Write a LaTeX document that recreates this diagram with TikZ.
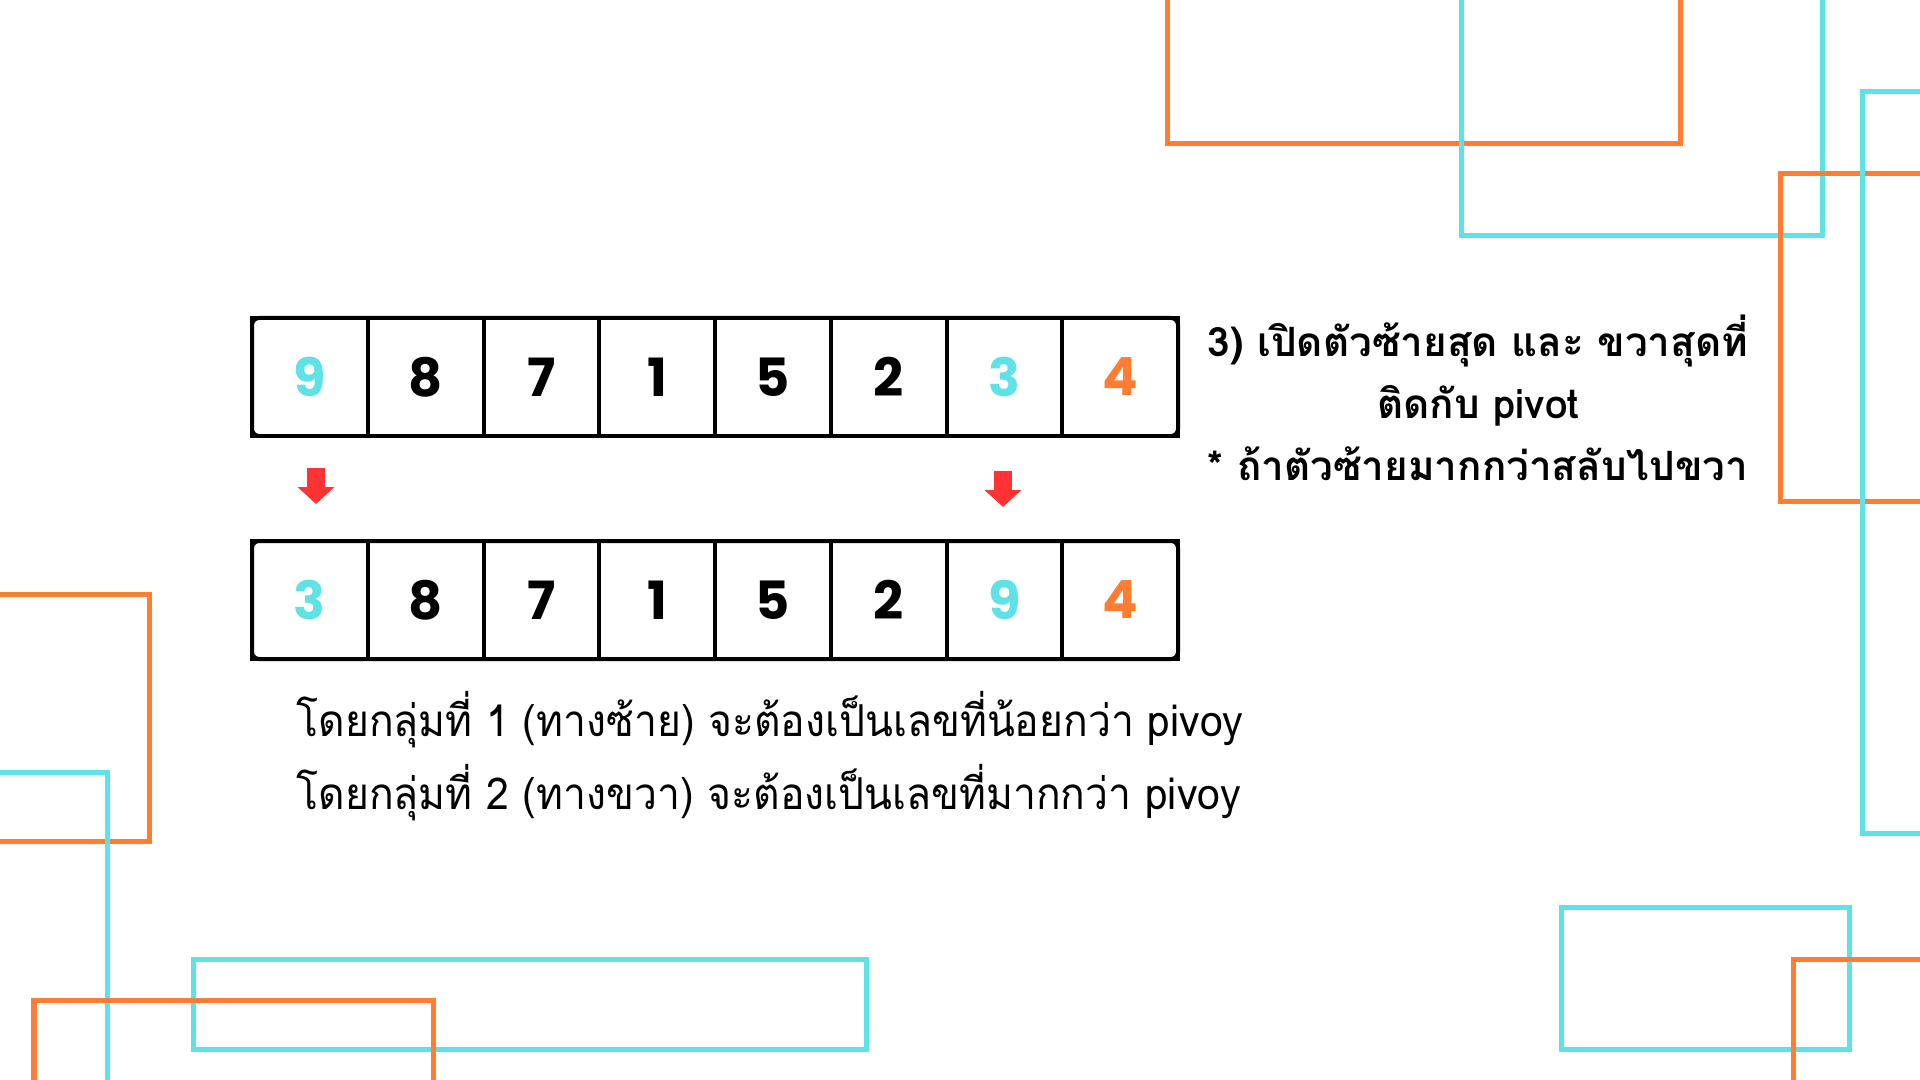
\documentclass[tikz,border=0pt]{standalone}
\usepackage{fontspec}
\usetikzlibrary{arrows.meta,positioning}
\newfontfamily\thaifont[Script=Thai]{Loma}
\newfontfamily\thaicond[Script=Thai,FakeStretch=0.93]{Loma}
\newfontfamily\numfont{Poppins}
\definecolor{figC}{RGB}{94,226,230}
\definecolor{figO}{RGB}{255,125,50}
\definecolor{figR}{RGB}{255,51,51}

\begin{document}
\begin{tikzpicture}[x=1cm,y=1cm,
  cell/.style={draw,line width=0.04cm,minimum width=1.1575cm,minimum height=1.18cm,inner sep=0pt,outer sep=0pt,
    font=\numfont\bfseries\fontsize{15}{18}\selectfont},
  decoO/.style={figO,line width=0.05cm},
  decoC/.style={figC,line width=0.05cm},
  downarrow/.style={figR,line width=0.18cm,-{Triangle[width=0.36cm,length=0.17cm]}}]
\useasboundingbox (0,0) rectangle (19.2,-10.8);
\clip (0,0) rectangle (19.2,-10.8);
\fill[white] (0,0) rectangle (19.2,-10.8);
\draw[decoO] (11.67,0.2) rectangle (16.80,-1.44);
\draw[decoC] (14.61,0.2) rectangle (18.22,-2.36);
\draw[decoO] (17.80,-1.74) rectangle (19.5,-5.01);
\draw[decoC] (18.62,-0.92) rectangle (19.5,-8.33);
\draw[decoO] (-0.2,-5.94) rectangle (1.49,-8.41);
\draw[decoC] (-0.2,-7.72) rectangle (1.07,-11);
\draw[decoC] (1.93,-9.59) rectangle (8.66,-10.49);
\draw[decoO] (0.34,-10.00) rectangle (4.33,-11);
\draw[decoC] (15.61,-9.07) rectangle (18.49,-10.49);
\draw[decoO] (17.93,-9.59) rectangle (19.5,-11);
\node[cell,text=figC] (t1) at (3.099,-3.77) {9};
\foreach \v/\c [count=\i from 2,evaluate=\i as \j using int(\i-1)] in {8/black,7/black,1/black,5/black,2/black,3/figC,4/figO}
  \node[cell,text=\c,right=0pt of t\j] (t\i) {\v};
\node[cell,text=figC] (b1) at (3.099,-6.00) {3};
\foreach \v/\c [count=\i from 2,evaluate=\i as \j using int(\i-1)] in {8/black,7/black,1/black,5/black,2/black,9/figC,4/figO}
  \node[cell,text=\c,right=0pt of b\j] (b\i) {\v};
\draw[line width=0.04cm,rounded corners=2pt] (t1.north west) rectangle (t8.south east);
\draw[line width=0.04cm,rounded corners=2pt] (b1.north west) rectangle (b8.south east);
\coordinate (la) at (3.16,-4.68);
\coordinate (lb) at (3.16,-5.04);
\coordinate (ra) at (10.03,-4.71);
\coordinate (rb) at (10.03,-5.07);
\draw[downarrow] (la) -- (lb);
\draw[downarrow] (ra) -- (rb);
\node[font=\thaifont\bfseries\fontsize{11.5}{17.6}\selectfont,align=center] (note) at (14.78,-3.98)
  {3) เปิดตัวซ้ายสุด และ ขวาสุดที่\\ติดกับ pivot\\* ถ้าตัวซ้ายมากกว่าสลับไปขวา};
\node[font=\thaicond\fontsize{12.5}{15}\selectfont,anchor=base west,inner sep=0pt] (rule1) at (2.96,-7.36)
  {โดยกลุ่มที่ 1 (ทางซ้าย) จะต้องเป็นเลขที่น้อยกว่า pivoy};
\node[font=\thaicond\fontsize{12.5}{15}\selectfont,anchor=base west,inner sep=0pt] (rule2) at (2.96,-8.09)
  {โดยกลุ่มที่ 2 (ทางขวา) จะต้องเป็นเลขที่มากกว่า pivoy};
\end{tikzpicture}
\end{document}
